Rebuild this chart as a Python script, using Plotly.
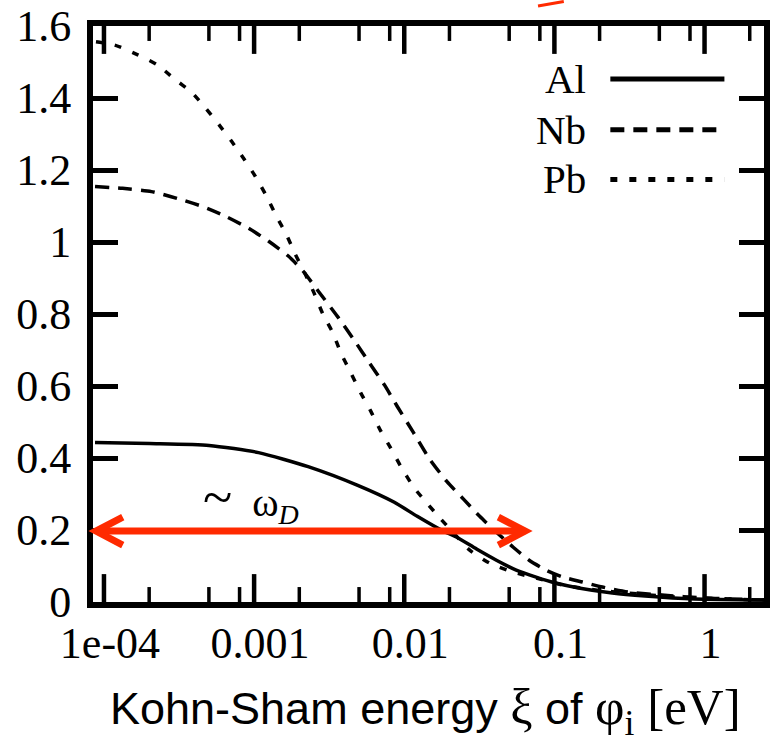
import math
import plotly.graph_objects as go

# ---------------- data ----------------
al_x = [8.72e-5, 2.01e-4, 5.01e-4, 1.07e-3, 2.29e-3, 4.90e-3, 8.59e-3, 1.22e-2, 1.78e-2,
        2.24e-2, 3.03e-2, 4.11e-2, 5.57e-2, 7.55e-2, 0.102, 0.145, 0.243, 0.402, 0.859, 2.49]
al_y = [0.443, 0.440, 0.435, 0.415, 0.376, 0.324, 0.277, 0.238, 0.199,
        0.180, 0.147, 0.116, 0.0886, 0.0692, 0.0526, 0.0388, 0.0249, 0.0166, 0.0083, 0.0055]

nb_x = [8.72e-5, 1.33e-4, 2.07e-4, 3.08e-4, 4.50e-4, 6.49e-4, 9.20e-4, 1.25e-3, 1.69e-3,
        2.12e-3, 2.67e-3, 3.61e-3, 4.68e-3, 5.87e-3, 7.38e-3, 8.99e-3, 1.15e-2, 1.48e-2,
        1.92e-2, 2.49e-2, 3.18e-2, 4.11e-2, 5.32e-2, 6.79e-2, 8.79e-2, 0.114, 0.154, 0.209,
        0.310, 0.520, 1.0, 2.49]
nb_y = [1.154, 1.149, 1.140, 1.121, 1.099, 1.071, 1.038, 1.002, 0.961,
        0.919, 0.864, 0.792, 0.725, 0.664, 0.603, 0.543, 0.471, 0.396,
        0.335, 0.285, 0.238, 0.194, 0.152, 0.116, 0.0886, 0.0692, 0.0554, 0.0415,
        0.0277, 0.0194, 0.0111, 0.0055]

pb_x = [8.85e-5, 1.18e-4, 1.68e-4, 2.27e-4, 2.94e-4, 3.81e-4, 4.79e-4, 5.83e-4, 7.10e-4,
        8.52e-4, 1.02e-3, 1.21e-3, 1.41e-3, 1.64e-3, 1.88e-3, 2.19e-3, 2.51e-3, 2.87e-3,
        3.35e-3, 3.78e-3, 4.40e-3, 5.13e-3, 5.97e-3, 6.95e-3, 8.09e-3, 9.41e-3, 1.16e-2,
        1.42e-2, 1.73e-2, 2.14e-2, 2.73e-2, 3.70e-2, 5.32e-2, 7.55e-2, 0.114, 0.188,
        0.310, 0.634, 2.49]
pb_y = [1.556, 1.547, 1.520, 1.492, 1.453, 1.417, 1.370, 1.326, 1.279,
        1.232, 1.182, 1.127, 1.071, 1.021, 0.966, 0.911, 0.858, 0.800,
        0.747, 0.692, 0.637, 0.581, 0.531, 0.476, 0.429, 0.379, 0.318,
        0.274, 0.233, 0.191, 0.144, 0.108, 0.083, 0.0664, 0.0471, 0.0332,
        0.0249, 0.0138, 0.0055]

series_names = ["Al", "Nb", "Pb"]
series_dash = ["solid", "14px,9px", "7px,12px"]

x_tick_vals = [1e-4, 1e-3, 1e-2, 1e-1, 1]
x_tick_text = ["1e-04", "0.001", "0.01", "0.1", "1"]
x_minor_vals = [m * 10.0 ** k for k in range(-5, 1) for m in (2, 5, 8)]
y_tick_vals = [0, 0.2, 0.4, 0.6, 0.8, 1.0, 1.2, 1.4, 1.6]
y_tick_text = ["0", "0.2", "0.4", "0.6", "0.8", "1", "1.2", "1.4", "1.6"]

# omega_D arrow (energy range) and its height
arrow_x = [8.85e-5, 0.0638]
arrow_y = 0.197
label_text = ("<span style='font-size:54px'>~</span>&nbsp;&nbsp;ω"
              "<sub><i>D</i></sub>")
label_x = 9.5e-4
label_y = 0.285

SERIF = "Liberation Serif"
x_title = ("Kohn-Sham energy "
           f"<span style='font-family:{SERIF};font-size:50px'>ξ</span> of "
           f"<span style='font-family:{SERIF};font-size:51px'>φ<sub>i</sub> [eV]</span>")

# ---------------- layout geometry ----------------
W, H = 772, 745
ML, MR, MT, MB = 93, 2, 24, 143
PW, PH = W - ML - MR, H - MT - MB
XR = [-4.073, 0.396]
YR = [0.0, 1.6]
RED = "#ff2a00"


def xpaper(v):
    return (math.log10(v) - XR[0]) / (XR[1] - XR[0])


def ypaper(v):
    return (v - YR[0]) / (YR[1] - YR[0])


fig = go.Figure()
for name, xs, ys, dash in zip(series_names, [al_x, nb_x, pb_x], [al_y, nb_y, pb_y], series_dash):
    fig.add_trace(go.Scatter(x=xs, y=ys, mode="lines", name=name,
                             line=dict(color="black", width=3.5, dash=dash,
                                       shape="spline", smoothing=0.6),
                             showlegend=False, hoverinfo="skip"))


# x ticks (bottom and mirrored on top) drawn as line traces at the tick values
def tick_trace(vals, length_px, width):
    dyv = length_px / PH * (YR[1] - YR[0])
    xs, ys = [], []
    lo, hi = 10 ** XR[0], 10 ** XR[1]
    for v in vals:
        if lo <= v <= hi:
            xs += [v, v, None, v, v, None]
            ys += [YR[0], YR[0] + dyv, None, YR[1], YR[1] - dyv, None]
    return go.Scatter(x=xs, y=ys, mode="lines", line=dict(color="black", width=width),
                      showlegend=False, hoverinfo="skip", connectgaps=False)


fig.add_trace(tick_trace(x_minor_vals, 15, 3.5))
fig.add_trace(tick_trace(x_tick_vals, 28, 4.5))

shapes = []
annotations = []

# manual legend (text left, sample right)
leg_y = [0.908, 0.820, 0.7336]
for name, dash, yy in zip(series_names, series_dash, leg_y):
    annotations.append(dict(text=name, xref="paper", yref="paper", x=0.737, y=yy,
                            xanchor="right", yanchor="middle", showarrow=False,
                            font=dict(family=SERIF, size=41, color="black")))
    shapes.append(dict(type="line", xref="paper", yref="paper",
                       x0=0.771, x1=0.941, y0=yy, y1=yy,
                       line=dict(color="black", width=5, dash=dash)))

# red double arrow
xl, xr = xpaper(arrow_x[0]), xpaper(arrow_x[1])
ya = ypaper(arrow_y)
dx, dy = 27 / PW, 14 / PH
shapes.append(dict(type="line", xref="paper", yref="paper", x0=xl, x1=xr, y0=ya, y1=ya,
                   line=dict(color=RED, width=7)))
shapes.append(dict(type="path", xref="paper", yref="paper",
                   path=f"M {xl+dx},{ya+dy} L {xl},{ya} L {xl+dx},{ya-dy}",
                   line=dict(color=RED, width=7)))
shapes.append(dict(type="path", xref="paper", yref="paper",
                   path=f"M {xr-dx},{ya+dy} L {xr},{ya} L {xr-dx},{ya-dy}",
                   line=dict(color=RED, width=7)))
# fragment of a red arrow cut off at the top
shapes.append(dict(type="line", xref="paper", yref="paper",
                   x0=(542 - ML) / PW, y0=1 + 20 / PH, x1=(568 - ML) / PW, y1=1 + 24.5 / PH,
                   line=dict(color=RED, width=3)))

annotations.append(dict(text=label_text, x=math.log10(label_x), y=label_y, xref="x", yref="y",
                        showarrow=False, xanchor="center", yanchor="middle",
                        font=dict(family=SERIF, size=40, color="black")))
annotations.append(dict(text=x_title, xref="paper", yref="paper", x=0.495, y=-0.19,
                        xanchor="center", yanchor="middle", showarrow=False,
                        font=dict(family="Liberation Sans", size=45, color="black")))

fig.update_layout(
    width=W, height=H,
    margin=dict(l=ML, r=MR, t=MT, b=MB, pad=0),
    paper_bgcolor="white", plot_bgcolor="white",
    shapes=shapes, annotations=annotations,
    xaxis=dict(type="log", range=XR, showgrid=False, zeroline=False,
               showline=True, linecolor="black", linewidth=6, mirror=True,
               ticks="", tickmode="array", tickvals=x_tick_vals, ticktext=x_tick_text,
               ticklabelshift=6, ticklabelstandoff=-3,
               tickfont=dict(family=SERIF, size=44, color="black")),
    yaxis=dict(range=YR, showgrid=False, zeroline=False,
               showline=True, linecolor="black", linewidth=6, mirror="ticks",
               ticks="inside", ticklen=25, tickwidth=4.5, tickcolor="black",
               tickmode="array", tickvals=y_tick_vals, ticktext=y_tick_text,
               ticklabelstandoff=7,
               tickfont=dict(family=SERIF, size=44, color="black")),
)

fig.write_html("out.html")
